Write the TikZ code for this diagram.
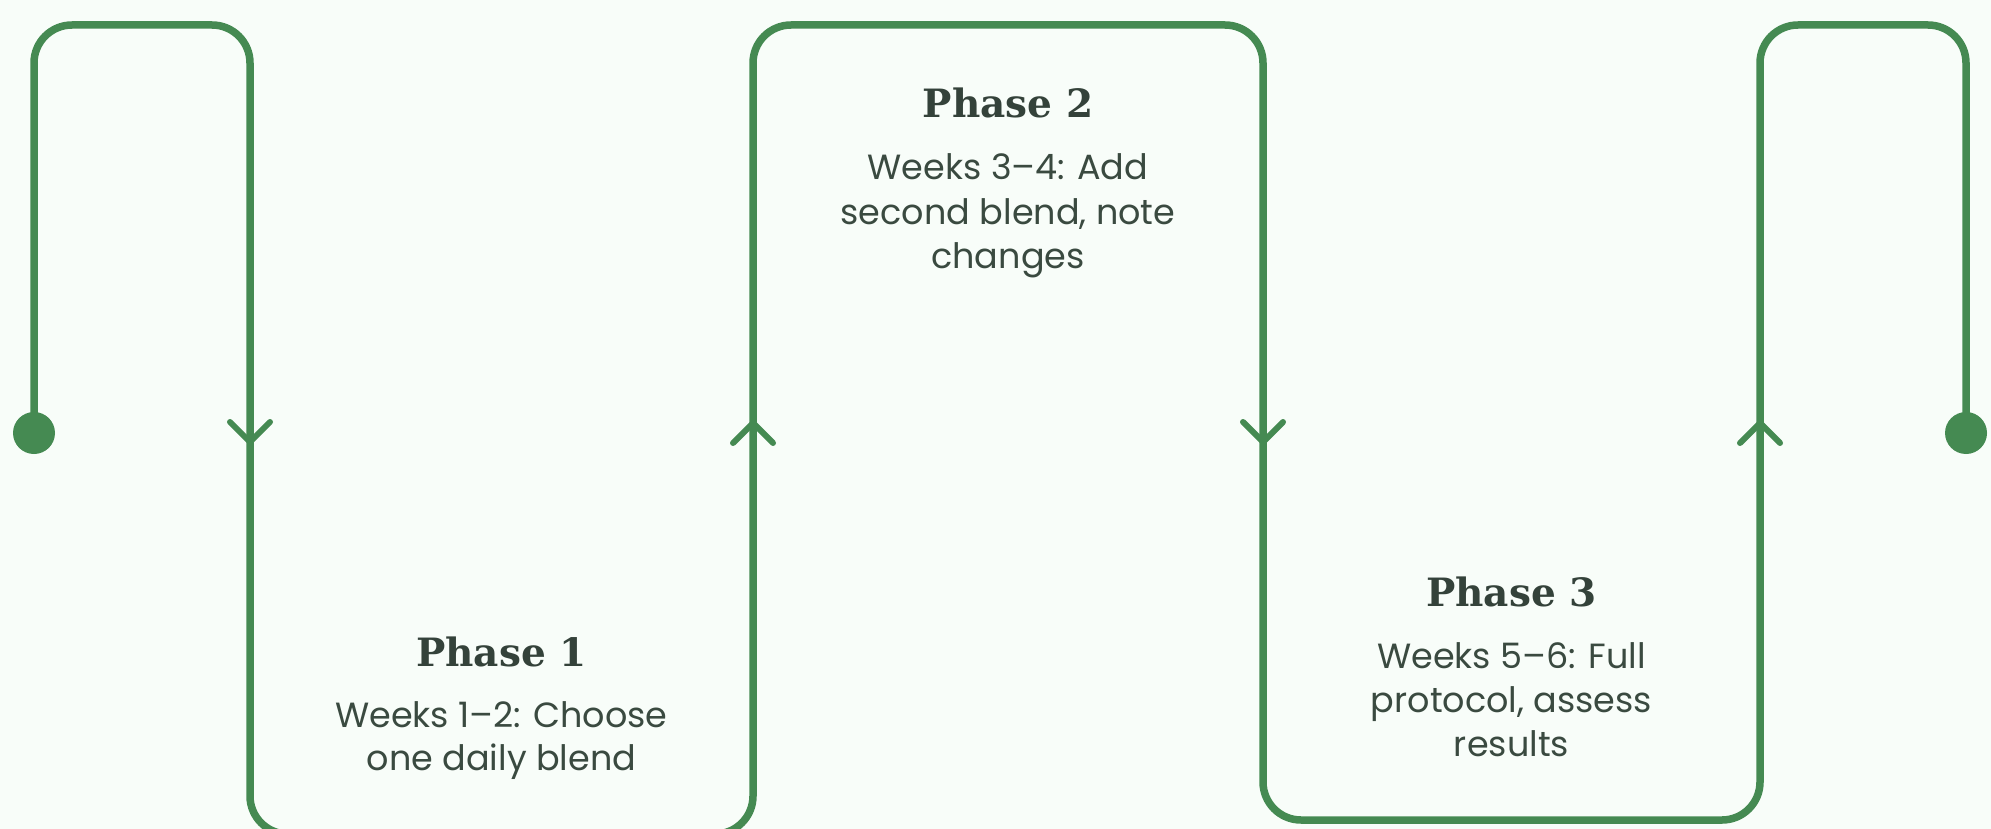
\documentclass[tikz,border=0pt]{standalone}
\usepackage{fontspec}
\setmainfont{Poppins}
\newfontfamily\titlefont{DejaVu Serif}
\definecolor{bg}{HTML}{F8FDF9}
\definecolor{pathgreen}{HTML}{458A52}
\definecolor{textdark}{HTML}{3A4A40}
\definecolor{titledark}{HTML}{34423A}
\tikzset{
  route/.style={draw=pathgreen, line width=7.5pt, rounded corners=38pt, line join=round},
  chev/.style={draw=pathgreen, line width=6pt, line cap=round, line join=round},
  enddot/.style={circle, fill=pathgreen, minimum size=42pt, inner sep=0pt},
  phasetitle/.style={anchor=base, inner sep=0pt, text=titledark, font=\titlefont\bfseries\fontsize{39}{46}\selectfont},
  phasebody/.style={anchor=base, inner sep=0pt, text=textdark, font=\fontsize{35}{44}\selectfont},
}
\begin{document}
\begin{tikzpicture}[x=1pt,y=-1pt]
\useasboundingbox (0,0) rectangle (1991,829);
\fill[bg] (0,0) rectangle (1991,829);

% end dots
\node[enddot] (start) at (34,433) {};
\node[enddot] (finish) at (1966,433) {};

% corner coordinates
\coordinate (c1) at (34,25);
\coordinate (c2) at (250,25);
\coordinate (c3) at (250,834);
\coordinate (c4) at (753,834);
\coordinate (c5) at (753,25);
\coordinate (c6) at (1263,25);
\coordinate (c7) at (1263,820);
\coordinate (c8) at (1760,820);
\coordinate (c9) at (1760,25);
\coordinate (c10) at (1966,25);

\draw[route] (start.center) -- (c1) -- (c2) -- (c3) -- (c4) -- (c5) -- (c6) -- (c7) -- (c8) -- (c9) -- (c10) -- (finish.center);

% direction chevrons
\draw[chev] (230,422) -- (250,442) -- (270,422);
\draw[chev] (733,443) -- (753,423) -- (773,443);
\draw[chev] (1243,422) -- (1263,442) -- (1283,422);
\draw[chev] (1740,443) -- (1760,423) -- (1780,443);

% Phase 1
\node[phasetitle] (p1t) at (501.5,666) {Phase 1};
\node[phasebody] (p1a) at (501.5,727) {Weeks 1–2: Choose};
\node[phasebody] (p1b) at (501.5,770) {one daily blend};

% Phase 2
\node[phasetitle] (p2t) at (1008,118) {Phase 2};
\node[phasebody] (p2a) at (1008,180) {Weeks 3–4: Add};
\node[phasebody] (p2b) at (1008,224) {second blend, note};
\node[phasebody] (p2c) at (1008,268) {changes};

% Phase 3
\node[phasetitle] (p3t) at (1511.5,606) {Phase 3};
\node[phasebody] (p3a) at (1511.5,668) {Weeks 5–6: Full};
\node[phasebody] (p3b) at (1511.5,712) {protocol, assess};
\node[phasebody] (p3c) at (1511.5,756) {results};
\end{tikzpicture}
\end{document}
